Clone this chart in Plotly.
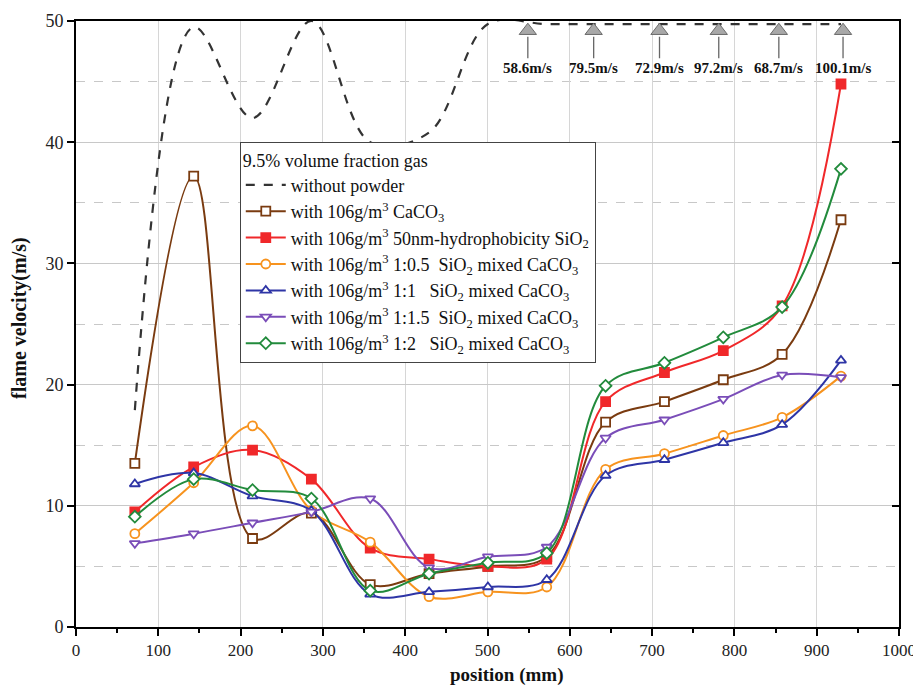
import plotly.graph_objects as go

POSITIONS = [71.5, 143, 214.5, 286, 357.5, 429, 500.5, 572, 643.5, 715, 786.5, 858, 929.5]

WITHOUT_POWDER = [17.9, 49.5, 42.0, 50.0, 40.0, 40.8, 49.75, 49.75, 49.75, 49.75, 49.75, 49.75, 49.75]
CACO3 = [13.5, 37.2, 7.3, 9.4, 3.5, 4.4, 5.0, 5.8, 16.9, 18.6, 20.4, 22.5, 33.6]
SIO2 = [9.5, 13.2, 14.6, 12.2, 6.5, 5.6, 5.0, 5.6, 18.6, 21.0, 22.8, 26.5, 44.8]
MIX_1_05 = [7.7, 11.9, 16.6, 9.6, 7.0, 2.5, 2.9, 3.3, 13.0, 14.3, 15.8, 17.3, 20.7]
MIX_1_1 = [11.8, 12.7, 10.8, 9.6, 2.7, 2.9, 3.3, 3.9, 12.5, 13.8, 15.2, 16.7, 22.0]
MIX_1_15 = [6.9, 7.7, 8.6, 9.5, 10.6, 4.9, 5.8, 6.6, 15.6, 17.1, 18.8, 20.8, 20.6]
MIX_1_2 = [9.1, 12.2, 11.3, 10.6, 3.0, 4.4, 5.3, 6.1, 19.9, 21.8, 23.9, 26.4, 37.8]

# clipped peak values of the "without powder" curve
PEAK_X = [549, 629, 709, 781, 854, 932]
PEAK_VALUES = [58.6, 79.5, 72.9, 97.2, 68.7, 100.1]

SERIF = "Times New Roman, Liberation Serif, DejaVu Serif, serif"

fig = go.Figure()

fig.add_trace(go.Scatter(
    x=POSITIONS, y=WITHOUT_POWDER, mode="lines", name="without powder",
    line=dict(color="#333333", width=2.2, dash="dash", shape="spline", smoothing=1.0),
))

series = [
    ("with 106g/m<sup>3</sup> CaCO<sub>3</sub>", CACO3, "#7A3B10", "square", "white"),
    ("with 106g/m<sup>3</sup> 50nm-hydrophobicity SiO<sub>2</sub>", SIO2, "#F0282A", "square", None),
    ("with 106g/m<sup>3</sup> 1:0.5  SiO<sub>2</sub> mixed CaCO<sub>3</sub>", MIX_1_05, "#F7931E", "circle", "white"),
    ("with 106g/m<sup>3</sup> 1:1   SiO<sub>2</sub> mixed CaCO<sub>3</sub>", MIX_1_1, "#2E35A6", "triangle-up", "white"),
    ("with 106g/m<sup>3</sup> 1:1.5  SiO<sub>2</sub> mixed CaCO<sub>3</sub>", MIX_1_15, "#7A4DB8", "triangle-down", "white"),
    ("with 106g/m<sup>3</sup> 1:2   SiO<sub>2</sub> mixed CaCO<sub>3</sub>", MIX_1_2, "#228B3C", "diamond", "white"),
]

for name, ys, color, sym, fill in series:
    fig.add_trace(go.Scatter(
        x=POSITIONS, y=ys, mode="lines+markers", name=name,
        line=dict(color=color, width=2, shape="spline", smoothing=1.0),
        marker=dict(symbol=sym, size=9, color=fill if fill else color,
                    line=dict(color=color, width=1.8)),
    ))

# peak indicator triangles
fig.add_trace(go.Scatter(
    x=PEAK_X, y=[49.2] * len(PEAK_X), mode="markers", showlegend=False,
    marker=dict(symbol="triangle-up", size=15, color="#A8A8A8", line=dict(color="#6a6a6a", width=1)),
    cliponaxis=False, hoverinfo="skip",
))

for xv, v in zip(PEAK_X, PEAK_VALUES):
    fig.add_annotation(
        x=xv, y=48.7, xref="x", yref="y", text=f"<b>{v}m/s</b>",
        showarrow=True, arrowhead=0, arrowwidth=1.3, arrowcolor="#666666",
        ax=0, ay=31, standoff=0,
        font=dict(family=SERIF, size=15, color="#111111"),
    )

# axis titles
fig.add_annotation(
    x=0.5225, y=-0.079, xref="paper", yref="paper", text="<b>position (mm)</b>",
    showarrow=False, xanchor="center", yanchor="middle",
    font=dict(family=SERIF, size=19, color="#111111"),
)
fig.add_annotation(
    x=-0.068, y=0.51, xref="paper", yref="paper", text="<b>flame velocity(m/s)</b>",
    showarrow=False, xanchor="center", yanchor="middle", textangle=-90,
    font=dict(family=SERIF, size=20, color="#111111"),
)

# mirrored right axis with inward ticks
fig.add_trace(go.Scatter(x=[None], y=[None], yaxis="y2", showlegend=False, hoverinfo="skip"))

fig.update_layout(
    width=913, height=679,
    margin=dict(l=68, r=22, t=13, b=60),
    paper_bgcolor="white", plot_bgcolor="white",
    font=dict(family=SERIF, size=17, color="#111111"),
    showlegend=True,
    legend=dict(
        x=0.199, y=0.80, xanchor="left", yanchor="top",
        bgcolor="white", bordercolor="#444444", borderwidth=1,
        font=dict(family=SERIF, size=18, color="#111111"),
        title=dict(text="9.5% volume fraction gas", font=dict(family=SERIF, size=18)),
        itemwidth=40, tracegroupgap=0,
    ),
    xaxis=dict(
        range=[0, 1000], dtick=100, tick0=0, automargin=False,
        showline=True, linecolor="black", linewidth=2, mirror=True,
        ticks="outside", ticklen=7, tickwidth=2, tickcolor="black",
        showgrid=True, gridcolor="#d6d6d6", gridwidth=1,
        zeroline=False,
        minor=dict(dtick=50, ticks="outside", ticklen=4, tickwidth=1.5, tickcolor="black", showgrid=False),
        tickfont=dict(family=SERIF, size=17, color="#222222"),
    ),
    yaxis=dict(
        range=[0, 50], dtick=10, tick0=0, automargin=False,
        showline=True, linecolor="black", linewidth=2, mirror=True,
        ticks="outside", ticklen=7, tickwidth=2, tickcolor="black",
        showgrid=True, gridcolor="#c8c8c8", gridwidth=1,
        zeroline=False,
        minor=dict(dtick=5, ticks="", showgrid=True, gridcolor="#c8c8c8", griddash="dash", gridwidth=1),
        tickfont=dict(family=SERIF, size=18, color="#222222"),
    ),
    yaxis2=dict(
        range=[0, 50], dtick=10, overlaying="y", side="right", automargin=False,
        showline=False, ticks="inside", ticklen=7, tickwidth=2, tickcolor="black",
        showticklabels=False, showgrid=False, zeroline=False,
    ),
)

fig.write_html("out.html")
